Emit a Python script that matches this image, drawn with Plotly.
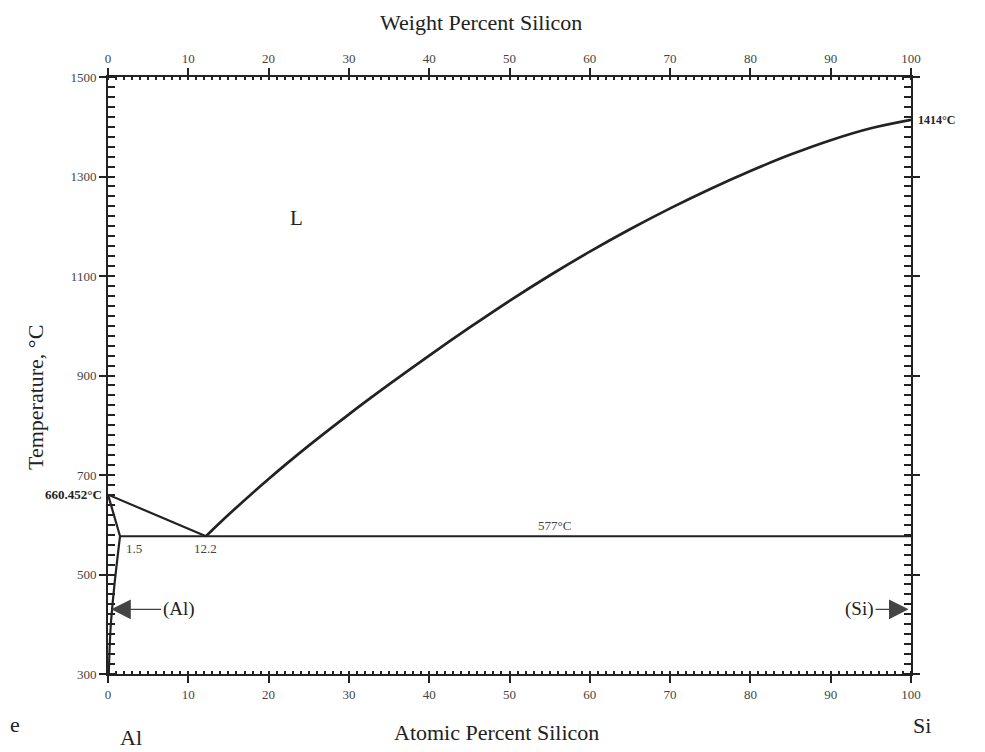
import plotly.graph_objects as go

# Al-Si phase diagram values ------------------------------------------------------------------
AL_MELT = 660.452
SI_MELT = 1414
EUTECTIC_T = 577
EUTECTIC_AT = 12.2
AL_MAX_SOL = 1.5

# Si-side liquidus (at.% Si, deg C)
liquidus_at = [12.2, 15, 20, 25, 30, 35, 40, 45, 50, 55, 60, 65, 70, 75, 80, 85, 90, 95, 100]
liquidus_t = [577, 620, 692, 759, 822, 882, 940, 996, 1050, 1101, 1149, 1194, 1236, 1275,
              1311, 1344, 1373, 1397, 1414]

# (Al) solvus
solvus_at = [1.5, 0.77, 0.33, 0.1]
solvus_t = [577, 474, 394, 300]

at_ticks = [0, 10, 20, 30, 40, 50, 60, 70, 80, 90, 100]
wt_ticks = [0, 10, 20, 30, 40, 50, 60, 70, 80, 90, 100]
t_ticks = [300, 500, 700, 900, 1100, 1300, 1500]
# -----------------------------------------------------------------------------------------------

SERIF = 'Liberation Serif'
INK = '#222222'
LINE = dict(color=INK, width=2.2)

fig = go.Figure()

# Al-side liquidus and solidus
fig.add_trace(go.Scatter(x=[0, EUTECTIC_AT], y=[AL_MELT, EUTECTIC_T], mode='lines', line=LINE))
fig.add_trace(go.Scatter(x=[0, AL_MAX_SOL], y=[AL_MELT, EUTECTIC_T], mode='lines', line=LINE))
fig.add_trace(go.Scatter(x=solvus_at, y=solvus_t, mode='lines', line=LINE, line_shape='spline'))
# eutectic line
fig.add_trace(go.Scatter(x=[AL_MAX_SOL, 100], y=[EUTECTIC_T, EUTECTIC_T], mode='lines',
                         line=dict(color=INK, width=2)))
# Si-side liquidus
fig.add_trace(go.Scatter(x=liquidus_at, y=liquidus_t, mode='lines', line=dict(color=INK, width=2.7),
                         line_shape='spline'))
# invisible trace so the top (weight percent) axis is drawn
fig.add_trace(go.Scatter(x=[0, 100], y=[300, 300], xaxis='x2', mode='lines',
                         line=dict(width=0), hoverinfo='skip'))

# Text labels
small = dict(family=SERIF, size=13, color='#444')
fig.add_annotation(x=23.5, y=1217, text='L', showarrow=False, font=dict(family=SERIF, size=21, color=INK))
fig.add_annotation(x=55.6, y=EUTECTIC_T, text='577°C', showarrow=False, yanchor='bottom', yshift=1,
                   font=small)
fig.add_annotation(x=AL_MAX_SOL, y=EUTECTIC_T, text=str(AL_MAX_SOL), showarrow=False, xanchor='left',
                   yanchor='top', xshift=4, yshift=-3, font=small)
fig.add_annotation(x=EUTECTIC_AT, y=EUTECTIC_T, text=str(EUTECTIC_AT), showarrow=False, yanchor='top',
                   yshift=-3, font=small)
fig.add_annotation(x=0, y=AL_MELT, text='<b>660.452°C</b>', showarrow=False, xanchor='right', xshift=-4,
                   font=dict(family=SERIF, size=13, color=INK))
fig.add_annotation(x=100, y=SI_MELT, text='<b>1414°C</b>', showarrow=False, xanchor='left', xshift=5,
                   font=dict(family=SERIF, size=12, color=INK))

# phase arrows
fig.add_annotation(x=0.4, y=430, ax=8.8, ay=430, axref='x', ayref='y', text='(Al)',
                   showarrow=True, arrowhead=2, arrowsize=2.8, arrowwidth=1.4, arrowcolor='#444',
                   standoff=0, font=dict(family=SERIF, size=19, color=INK))
fig.add_annotation(x=99.7, y=430, ax=93.6, ay=430, axref='x', ayref='y', text='(Si)',
                   showarrow=True, arrowhead=2, arrowsize=2.8, arrowwidth=1.4, arrowcolor='#444',
                   standoff=0, font=dict(family=SERIF, size=19, color=INK))

# axis titles and element labels
title_font = dict(family=SERIF, size=22, color=INK)
paper_labels = [
    (0.4645, 1.092, 'Weight Percent Silicon', 0),
    (0.4844, -0.0988, 'Atomic Percent Silicon', 0),
    (-0.0897, 0.464, 'Temperature, °C', -90),
    (0.0286, -0.107, 'Al', 0),
    (1.0137, -0.086, 'Si', 0),
    (-0.116, -0.0854, 'e', 0),
]
for px, py, txt, ang in paper_labels:
    fig.add_annotation(xref='paper', yref='paper', x=px, y=py, text=txt, textangle=ang,
                       xanchor='center', yanchor='middle', showarrow=False, font=title_font)

axis_common = dict(showline=True, linecolor=INK, linewidth=2, showgrid=False, zeroline=False,
                   automargin=False, ticks='outside', ticklen=7, tickwidth=1.5, tickcolor=INK,
                   tickfont=dict(family=SERIF, size=13, color='#444'))

fig.update_layout(
    width=985,
    height=752,
    margin=dict(l=100, r=82, t=69, b=86),
    paper_bgcolor='white',
    plot_bgcolor='white',
    showlegend=False,
    font=dict(family=SERIF, color=INK),
    xaxis=dict(range=[0, 100], tickvals=at_ticks, **axis_common,
               minor=dict(ticks='inside', dtick=1, ticklen=3, tickcolor=INK)),
    xaxis2=dict(range=[0, 100], tickvals=wt_ticks, overlaying='x', side='top', **axis_common,
                minor=dict(ticks='inside', dtick=1, ticklen=3, tickcolor=INK)),
    yaxis=dict(range=[300, 1500], tickvals=t_ticks, mirror='allticks', **axis_common,
               minor=dict(ticks='inside', dtick=20, ticklen=3, tickcolor=INK)),
)

fig.write_html('out.html')
